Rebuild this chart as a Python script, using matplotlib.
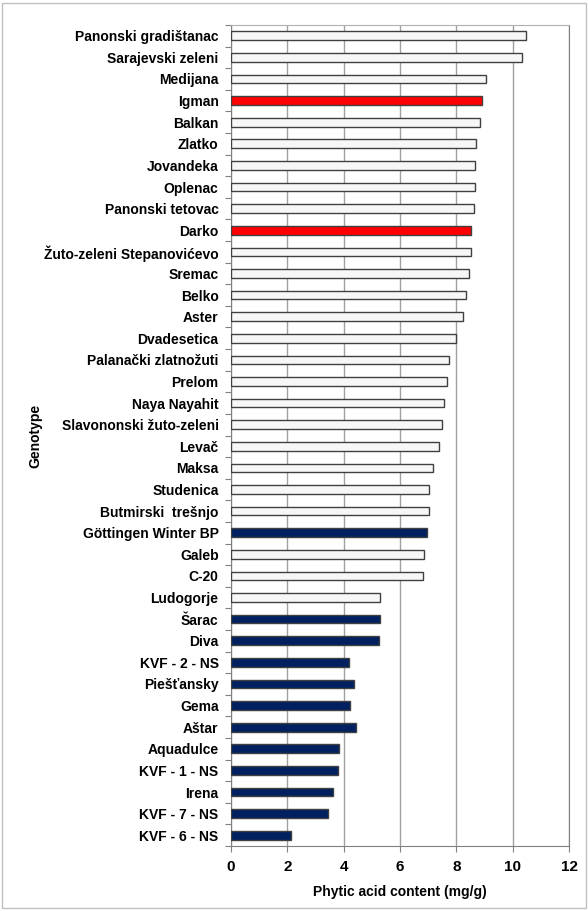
import matplotlib
matplotlib.use("Agg")
import matplotlib.pyplot as plt
from matplotlib.patches import Rectangle
import numpy as np

# genotypes from top to bottom
genotypes = [
    "Panonski gradištanac", "Sarajevski zeleni", "Medijana", "Igman", "Balkan",
    "Zlatko", "Jovandeka", "Oplenac", "Panonski tetovac", "Darko",
    "Žuto-zeleni Stepanovićevo", "Sremac", "Belko", "Aster", "Dvadesetica",
    "Palanački zlatnožuti", "Prelom", "Naya Nayahit", "Slavononski žuto-zeleni",
    "Levač", "Maksa", "Studenica", "Butmirski  trešnjo", "Göttingen Winter BP",
    "Galeb", "C-20", "Ludogorje", "Šarac", "Diva", "KVF - 2 - NS", "Piešťansky",
    "Gema", "Aštar", "Aquadulce", "KVF - 1 - NS", "Irena", "KVF - 7 - NS",
    "KVF - 6 - NS",
]
phytic_acid = [
    10.46, 10.32, 9.03, 8.90, 8.85,
    8.71, 8.65, 8.65, 8.63, 8.52,
    8.50, 8.46, 8.35, 8.22, 7.98,
    7.75, 7.66, 7.56, 7.50,
    7.37, 7.16, 7.04, 7.02, 6.95,
    6.86, 6.82, 5.30, 5.29, 5.25, 4.19, 4.38,
    4.21, 4.43, 3.83, 3.81, 3.63, 3.44,
    2.12,
]
# group: 0 = light, 1 = red, 2 = dark blue
group = [
    0, 0, 0, 1, 0,
    0, 0, 0, 0, 1,
    0, 0, 0, 0, 0,
    0, 0, 0, 0,
    0, 0, 0, 0, 2,
    0, 0, 0, 2, 2, 2, 2,
    2, 2, 2, 2, 2, 2,
    2,
]
x_ticks = [0, 2, 4, 6, 8, 10, 12]

fill_colors = {0: "#f7f7f7", 1: "#ff0000", 2: "#002060"}

plt.rcParams["font.family"] = ["Liberation Sans", "DejaVu Sans"]

fig = plt.figure(figsize=(5.88, 9.11), dpi=100)
ax = fig.add_axes([0.393, 0.0713, 0.575, 0.9013])

n = len(genotypes)
ypos = np.arange(n)
ax.barh(ypos, phytic_acid, height=0.4,
        color=[fill_colors[g] for g in group],
        edgecolor="#404040", linewidth=1.0, zorder=3)

ax.set_ylim(n - 0.5, -0.5)
ax.set_xlim(0, 12)
ax.set_xticks(x_ticks)
ax.set_xticklabels([str(t) for t in x_ticks], fontsize=11, fontweight="bold")
ax.xaxis.grid(True, color="#a0a0a0", linewidth=1.0, zorder=0)

# category labels at centers, tick marks at boundaries
ax.set_yticks(np.arange(-0.5, n, 1.0))
ax.set_yticklabels([])
ax.set_yticks(ypos, minor=True)
ax.set_yticklabels(genotypes, minor=True, fontsize=10, fontweight="bold")
ax.tick_params(axis="y", which="minor", length=0, pad=9)
ax.tick_params(axis="y", which="major", length=4, color="#808080", direction="out")
ax.tick_params(axis="x", length=4, color="#808080", pad=6)

for side in ["left", "bottom", "top", "right"]:
    ax.spines[side].set_color("#808080")
ax.spines["top"].set_color("#b0b0b0")

ax.set_xlabel("Phytic acid content (mg/g)", fontsize=10, fontweight="bold", labelpad=8)
ax.set_ylabel("Genotype", fontsize=10, fontweight="bold")
ax.yaxis.set_label_coords(-0.557, 0.5)

# outer chart border
fig.patches.append(Rectangle((0.003, 0.003), 0.994, 0.994, transform=fig.transFigure,
                             fill=False, edgecolor="#c0c0c0", linewidth=1.0))

fig.savefig("out.png", dpi=100)
plt.close(fig)
